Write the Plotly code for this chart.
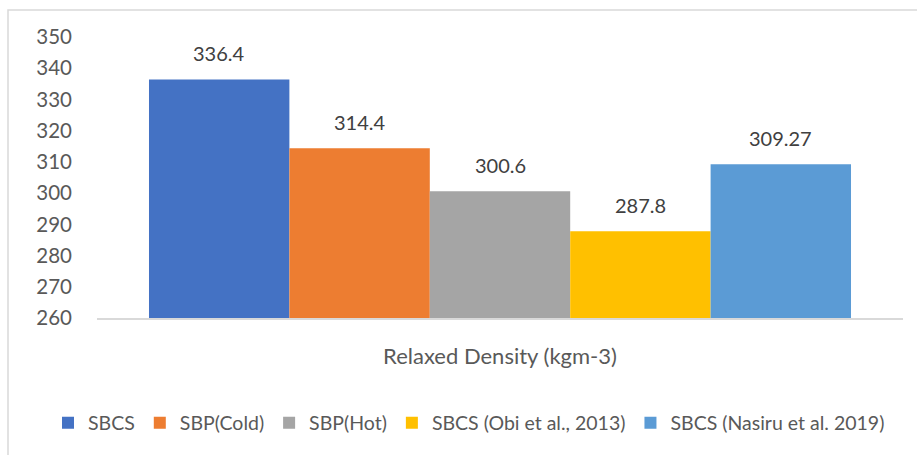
import plotly.graph_objects as go

category = ["Relaxed Density (kgm-3)"]
series_names = ["SBCS", "SBP(Cold)", "SBP(Hot)", "SBCS (Obi et al., 2013)", "SBCS (Nasiru et al. 2019)"]
series_values = [336.4, 314.4, 300.6, 287.8, 309.27]
series_labels = ["336.4", "314.4", "300.6", "287.8", "309.27"]
colors = ["#4472C4", "#ED7D31", "#A5A5A5", "#FFC000", "#5B9BD5"]
y_ticks = [260, 270, 280, 290, 300, 310, 320, 330, 340, 350]

W, H = 917, 455
ML, MR, MT, MB = 97, 14, 37, 137
plot_w = W - ML - MR
plot_h = H - MT - MB
BARGAP = 0.129
bar_px = plot_w * (1 - BARGAP) / len(series_values)

FONT = "Lato, 'Open Sans', sans-serif"

fig = go.Figure()
for name, val, col in zip(series_names, series_values, colors):
    fig.add_trace(go.Bar(
        x=category, y=[val], name=name,
        marker=dict(color=col, line=dict(width=0)),
        hoverinfo="skip",
    ))

n = len(series_values)
for i, (val, lab) in enumerate(zip(series_values, series_labels)):
    fig.add_annotation(
        x=category[0], y=val, xref="x", yref="y",
        text=lab, showarrow=False,
        xanchor="center", yanchor="bottom",
        xshift=(i - (n - 1) / 2) * bar_px, yshift=12,
        font=dict(family=FONT, size=20, color="#404040"),
    )

# outer chart border (light grey frame)
fig.add_shape(
    type="rect", xref="paper", yref="paper",
    x0=(8 - ML) / plot_w, x1=(W + 5 - ML) / plot_w,
    y0=(MT + plot_h - (H + 5)) / plot_h, y1=(MT + plot_h - 10) / plot_h,
    line=dict(color="#D9D9D9", width=1.5), fillcolor="rgba(0,0,0,0)",
    layer="below",
)

fig.update_layout(
    width=W, height=H,
    margin=dict(l=ML, r=MR, t=MT, b=MB, pad=0, autoexpand=False),
    paper_bgcolor="white", plot_bgcolor="white",
    barmode="group", bargap=BARGAP, bargroupgap=0,
    font=dict(family=FONT, size=20, color="#595959"),
    showlegend=True,
    legend=dict(
        orientation="h", x=(48 - ML) / plot_w, xanchor="left",
        y=(MT + plot_h - 423) / plot_h, yanchor="middle",
        font=dict(family=FONT, size=19.5, color="#595959"),
        itemclick=False, itemdoubleclick=False,
        traceorder="normal", itemwidth=30,
        bgcolor="rgba(0,0,0,0)",
    ),
    xaxis=dict(
        type="category", range=[-0.5, 0.5],
        showline=True, linecolor="#D9D9D9", linewidth=1.5,
        showgrid=False, zeroline=False, ticks="",
        tickfont=dict(family=FONT, size=22, color="#595959"),
        ticklabelstandoff=18,
        fixedrange=True,
    ),
    yaxis=dict(
        range=[260, 350], tickvals=y_ticks,
        showgrid=False, zeroline=False, showline=False, ticks="",
        tickfont=dict(family=FONT, size=20.5, color="#595959"),
        ticklabelstandoff=24,
        fixedrange=True,
    ),
)

fig.write_html(
    "out.html",
    config={"displayModeBar": False},
    post_script="document.body.style.margin='0';",
)
